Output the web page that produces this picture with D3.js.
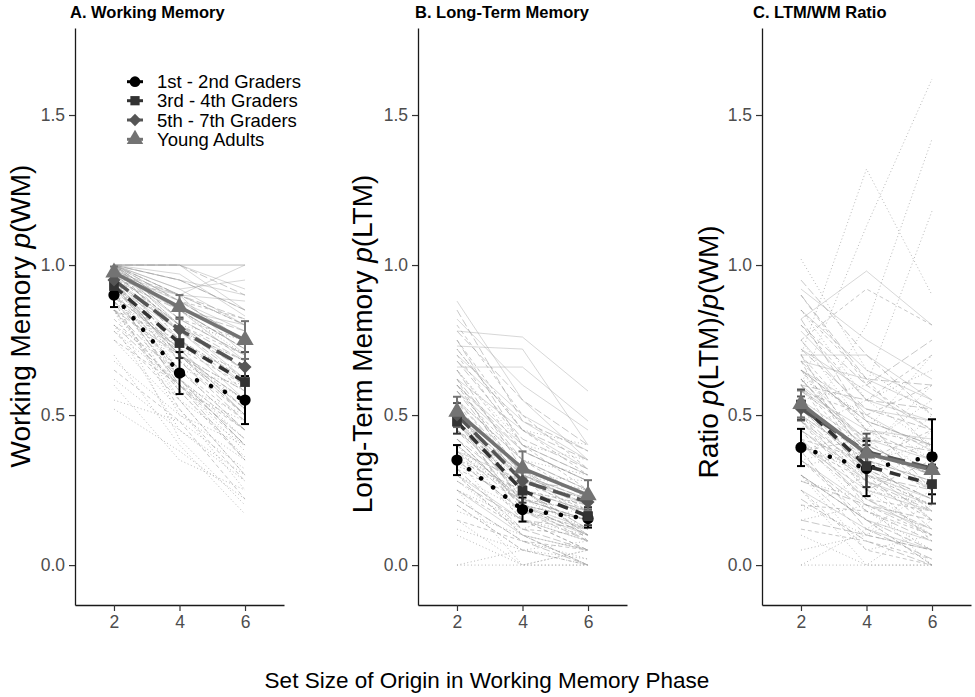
<!DOCTYPE html>
<html><head><meta charset="utf-8">
<script src="https://cdn.jsdelivr.net/npm/d3@7"></script>
<style>
body{margin:0;background:#fff}
svg{display:block}
text{font-family:"Liberation Sans",Arial,sans-serif}
</style>
</head><body>
<svg id="c" width="975" height="697"></svg>
<script>
// ---------- data ----------
const setSizes = [2, 4, 6];
const groups = ["1st - 2nd Graders", "3rd - 4th Graders", "5th - 7th Graders", "Young Adults"];
const xTicks = [2, 4, 6];
const yTicks = [0.0, 0.5, 1.0, 1.5];
const panelTitles = ["A. Working Memory", "B. Long-Term Memory", "C. LTM/WM Ratio"];
const xTitle = "Set Size of Origin in Working Memory Phase";

// group means (per set size 2,4,6) and half-width of error bars
const wmMeans = [[0.90,0.64,0.55],[0.93,0.74,0.61],[0.95,0.785,0.66],[0.975,0.86,0.75]];
const wmErr   = [[0.04,0.07,0.08],[0.03,0.05,0.05],[0.02,0.04,0.05],[0.02,0.04,0.063]];
const ltmMeans = [[0.35,0.185,0.155],[0.478,0.248,0.163],[0.50,0.28,0.21],[0.511,0.322,0.233]];
const ltmErr   = [[0.05,0.04,0.03],[0.04,0.04,0.03],[0.04,0.04,0.03],[0.05,0.057,0.05]];
const ratioMeans = [[0.392,0.322,0.361],[0.535,0.33,0.27],[0.522,0.378,0.323],[0.537,0.372,0.317]];
const ratioErr   = [[0.062,0.092,0.125],[0.05,0.07,0.065],[0.04,0.06,0.05],[0.045,0.05,0.05]];

// individual participants, WM
const wmG1 = [[1.0,0.75,0.62],[0.95,0.70,0.58],[0.92,0.62,0.45],[0.85,0.55,0.40],[1.0,0.85,0.70],[0.88,0.50,0.35],[0.80,0.45,0.30],[0.97,0.72,0.65],[0.75,0.52,0.25],[0.90,0.60,0.50],[1.0,0.80,0.75],[0.93,0.68,0.55],[0.62,0.45,0.28],[0.85,0.58,0.48],[0.98,0.78,0.68],[0.70,0.40,0.17],[0.95,0.65,0.60],[0.55,0.48,0.32],[0.88,0.70,0.52],[1.0,0.62,0.42],[0.52,0.38,0.22],[0.78,0.60,0.38],[0.85,0.42,0.20],[0.92,0.55,0.30],[0.68,0.50,0.40],[0.80,0.65,0.45],[0.95,0.58,0.36],[0.60,0.35,0.25]];
const wmG2 = [[1.0,0.85,0.72],[0.97,0.80,0.65],[0.93,0.70,0.55],[0.88,0.62,0.45],[1.0,0.90,0.80],[0.90,0.68,0.50],[0.85,0.58,0.35],[0.95,0.78,0.68],[0.78,0.55,0.30],[1.0,0.75,0.58],[0.98,0.88,0.82],[0.92,0.72,0.60],[0.82,0.60,0.40],[1.0,0.82,0.75],[0.95,0.70,0.52],[0.65,0.48,0.22],[0.97,0.80,0.70],[0.90,0.65,0.48],[0.88,0.52,0.28],[0.95,0.62,0.40],[0.75,0.60,0.45],[1.0,0.70,0.50],[0.85,0.75,0.62]];
const wmG3 = [[1.0,0.90,0.80],[0.98,0.85,0.72],[0.95,0.78,0.65],[0.92,0.70,0.55],[1.0,0.95,0.85],[0.93,0.75,0.60],[0.88,0.65,0.45],[1.0,0.82,0.70],[0.85,0.62,0.40],[1.0,0.88,0.75],[0.97,0.80,0.68],[0.90,0.72,0.52],[1.0,1.0,0.90],[0.95,0.85,0.78],[0.80,0.60,0.35],[0.98,0.90,0.82],[0.93,0.70,0.58],[0.90,0.60,0.42],[1.0,0.78,0.62],[0.85,0.70,0.50],[0.95,0.68,0.48]];
const wmG4 = [[1.0,1.0,1.0],[1.0,1.0,0.92],[1.0,0.95,0.85],[1.0,0.92,0.80],[0.97,0.88,0.78],[1.0,0.85,0.72],[0.95,0.80,0.65],[1.0,0.90,0.88],[1.0,0.97,0.83],[0.98,0.82,0.70],[0.93,0.78,0.60],[1.0,1.0,0.85],[1.0,0.88,0.75],[0.95,0.75,0.55],[1.0,0.92,0.95],[0.97,0.85,0.68],[1.0,0.95,0.90],[0.90,0.72,0.50],[1.0,1.0,1.0],[0.97,0.90,1.0],[1.0,0.85,0.80],[0.95,0.90,0.70],[1.0,0.80,0.62]];

// individual participants, LTM
const ltmG1 = [[0.50,0.25,0.20],[0.40,0.20,0.15],[0.30,0.10,0.05],[0.25,0.15,0.10],[0.60,0.30,0.25],[0.35,0.10,0.0],[0.20,0.05,0.08],[0.45,0.28,0.22],[0.15,0.0,0.05],[0.38,0.22,0.18],[0.55,0.35,0.30],[0.30,0.18,0.12],[0.10,0.0,0.0],[0.28,0.12,0.20],[0.48,0.30,0.28],[0.0,0.05,0.0],[0.42,0.20,0.15],[0.33,0.25,0.10],[0.65,0.40,0.35],[0.22,0.08,0.02],[0.0,0.0,0.0],[0.72,0.45,0.40],[0.18,0.10,0.0],[0.40,0.15,0.08],[0.52,0.22,0.12],[0.12,0.05,0.02],[0.35,0.28,0.18],[0.25,0.0,0.05]];
const ltmG2 = [[0.60,0.30,0.20],[0.55,0.28,0.18],[0.45,0.20,0.10],[0.40,0.22,0.15],[0.75,0.45,0.30],[0.50,0.15,0.05],[0.30,0.10,0.0],[0.65,0.38,0.28],[0.35,0.18,0.12],[0.48,0.25,0.20],[0.70,0.40,0.25],[0.42,0.20,0.08],[0.20,0.05,0.0],[0.58,0.35,0.22],[0.80,0.50,0.32],[0.25,0.12,0.10],[0.50,0.30,0.15],[0.38,0.15,0.05],[0.62,0.25,0.12],[0.32,0.22,0.18],[0.45,0.30,0.08],[0.15,0.08,0.05],[0.55,0.20,0.15]];
const ltmG3 = [[0.62,0.35,0.25],[0.58,0.30,0.22],[0.48,0.22,0.15],[0.42,0.25,0.18],[0.78,0.55,0.40],[0.52,0.20,0.10],[0.32,0.12,0.05],[0.68,0.42,0.32],[0.38,0.20,0.15],[0.50,0.28,0.25],[0.72,0.45,0.35],[0.45,0.25,0.12],[0.22,0.08,0.0],[0.60,0.38,0.28],[0.85,0.48,0.38],[0.28,0.15,0.12],[0.55,0.30,0.20],[0.65,0.32,0.18],[0.35,0.25,0.10],[0.48,0.18,0.08],[0.75,0.40,0.30]];
const ltmG4 = [[0.88,0.55,0.35],[0.78,0.76,0.58],[0.73,0.72,0.40],[0.66,0.66,0.48],[0.60,0.40,0.30],[0.55,0.35,0.25],[0.50,0.30,0.22],[0.45,0.25,0.18],[0.40,0.22,0.15],[0.35,0.18,0.10],[0.30,0.15,0.08],[0.62,0.45,0.32],[0.70,0.50,0.38],[0.25,0.10,0.05],[0.48,0.28,0.20],[0.82,0.60,0.45],[0.42,0.20,0.12],[0.58,0.38,0.28],[0.68,0.48,0.35],[0.38,0.28,0.22],[0.52,0.32,0.15]];

// individual participants, LTM/WM ratio
const ratioG1 = [[1.02,0.65,0.50],[0.70,1.32,0.90],[0.60,1.13,1.62],[0.45,0.80,1.42],[0.55,0.60,1.18],[0.50,0.35,0.40],[0.40,0.30,0.20],[0.30,0.15,0.00],[0.25,0.00,0.15],[0.35,0.40,0.55],[0.20,0.10,0.30],[0.48,0.25,0.10],[0.15,0.20,0.00],[0.38,0.45,0.70],[0.00,0.12,0.25],[0.62,0.50,0.35],[0.28,0.22,0.45],[0.42,0.18,0.05],[0.10,0.00,0.00],[0.33,0.38,0.60],[0.0,0.0,0.0],[0.75,0.45,0.30],[0.55,0.25,0.20],[0.18,0.30,0.50],[0.65,0.35,0.15],[0.45,0.55,0.40],[0.05,0.10,0.20],[0.30,0.05,0.10],[0.85,0.55,0.65]];
const ratioG2 = [[0.90,0.60,0.45],[0.75,0.92,0.80],[0.65,0.40,0.30],[0.60,0.35,0.25],[0.55,0.30,0.20],[0.50,0.25,0.35],[0.45,0.20,0.10],[0.40,0.28,0.15],[0.35,0.15,0.00],[0.70,0.45,0.40],[0.30,0.10,0.05],[0.58,0.50,0.60],[0.25,0.05,0.00],[0.62,0.38,0.30],[0.80,0.55,0.70],[0.48,0.22,0.18],[0.20,0.18,0.10],[0.52,0.32,0.22],[0.68,0.30,0.12],[0.42,0.35,0.45],[0.85,0.62,0.38],[0.12,0.08,0.02],[0.60,0.28,0.08],[0.38,0.42,0.25]];
const ratioG3 = [[0.95,0.70,0.50],[0.80,0.60,0.75],[0.68,0.45,0.35],[0.62,0.40,0.30],[0.55,0.35,0.28],[0.50,0.30,0.25],[0.45,0.28,0.18],[0.40,0.22,0.12],[0.35,0.18,0.08],[0.72,0.52,0.45],[0.30,0.15,0.05],[0.58,0.42,0.38],[0.22,0.08,0.00],[0.65,0.48,0.40],[0.48,0.32,0.22],[0.28,0.20,0.15],[0.52,0.38,0.30],[0.82,0.48,0.25],[0.60,0.55,0.52],[0.38,0.12,0.02],[0.70,0.35,0.18],[0.15,0.10,0.05],[0.90,0.62,0.60]];
const ratioG4 = [[0.82,0.98,0.80],[0.92,0.75,0.62],[0.78,0.55,0.48],[0.70,0.70,0.55],[0.65,0.48,0.40],[0.60,0.42,0.35],[0.55,0.40,0.30],[0.50,0.35,0.28],[0.45,0.30,0.22],[0.40,0.25,0.18],[0.35,0.20,0.12],[0.30,0.15,0.08],[0.68,0.62,0.52],[0.75,0.50,0.38],[0.25,0.12,0.05],[0.58,0.45,0.42],[0.48,0.28,0.20],[0.62,0.38,0.25],[0.72,0.58,0.45],[0.52,0.32,0.15],[0.85,0.65,0.55],[0.42,0.22,0.10],[0.65,0.52,0.48]];

// ---------- styles ----------
const groupColors = ["#000000", "#333333", "#555555", "#737373"];
const meanDash = ["0.1 15", "11 8", "18 7", null];
const indivDash = ["1 2.5", "4 3", "8 3", null];
const symbols = [d3.symbolCircle, d3.symbolSquare, d3.symbolSquare, d3.symbolTriangle];
const symbolSizes = [100, 95, 85, 130];
const symbolRot = [0, 0, 45, 0];

const panels = [
  {title: panelTitles[0], indiv: [wmG1, wmG2, wmG3, wmG4], means: wmMeans, err: wmErr,
   ylab: [["Working Memory ", false], ["p", true], ["(WM)", false]], ylabPos: [20, 316]},
  {title: panelTitles[1], indiv: [ltmG1, ltmG2, ltmG3, ltmG4], means: ltmMeans, err: ltmErr,
   ylab: [["Long-Term Memory ", false], ["p", true], ["(LTM)", false]], ylabPos: [362, 344]},
  {title: panelTitles[2], indiv: [ratioG1, ratioG2, ratioG3, ratioG4], means: ratioMeans, err: ratioErr,
   ylab: [["Ratio ", false], ["p", true], ["(LTM)/", false], ["p", true], ["(WM)", false]], ylabPos: [708, 352]}
];

// ---------- layout ----------
const svg = d3.select("#c");
const panelLefts = [75, 418, 762];
const titleX = [70, 415, 753];
const panelW = 209;
const y = d3.scaleLinear().domain([-0.133, 1.79]).range([605, 28]);
const line = d3.line();

panels.forEach((p, i) => {
  const L = panelLefts[i];
  const x = d3.scaleLinear().domain([0.81, 7.19]).range([L, L + panelW]);
  const g = svg.append("g");

  // individual lines
  p.indiv.forEach((arr, gi) => {
    g.append("g").selectAll("path").data(arr).join("path")
      .attr("d", d => line(d.map((v, k) => [x(setSizes[k]), y(v)])))
      .attr("fill", "none")
      .attr("stroke", "#9c9c9c")
      .attr("stroke-opacity", gi === 3 ? 0.5 : 0.7)
      .attr("stroke-width", gi === 0 ? 1 : 0.8)
      .attr("stroke-dasharray", indivDash[gi]);
  });

  // mean lines
  p.means.forEach((m, gi) => {
    g.append("path")
      .attr("d", line(m.map((v, k) => [x(setSizes[k]), y(v)])))
      .attr("fill", "none")
      .attr("stroke", groupColors[gi])
      .attr("stroke-width", gi === 0 ? 4.5 : 3.6)
      .attr("stroke-linecap", gi === 0 ? "round" : "butt")
      .attr("stroke-dasharray", meanDash[gi]);
  });

  // error bars
  p.means.forEach((m, gi) => {
    const eg = g.append("g").attr("stroke", groupColors[gi]).attr("stroke-width", 2);
    m.forEach((v, k) => {
      const cx = x(setSizes[k]);
      const lo = y(v - p.err[gi][k]), hi = y(v + p.err[gi][k]);
      eg.append("line").attr("x1", cx).attr("x2", cx).attr("y1", lo).attr("y2", hi);
      eg.append("line").attr("x1", cx - 4).attr("x2", cx + 4).attr("y1", lo).attr("y2", lo);
      eg.append("line").attr("x1", cx - 4).attr("x2", cx + 4).attr("y1", hi).attr("y2", hi);
    });
  });

  // points
  p.means.forEach((m, gi) => {
    g.append("g").selectAll("path").data(m).join("path")
      .attr("d", d3.symbol(symbols[gi], symbolSizes[gi]))
      .attr("transform", (v, k) => `translate(${x(setSizes[k])},${y(v)}) rotate(${symbolRot[gi]})`)
      .attr("fill", groupColors[gi]);
  });

  // axes
  const ya = g.append("g").attr("transform", `translate(${L},0)`)
    .call(d3.axisLeft(y).tickValues(yTicks).tickFormat(d3.format(".1f")).tickSize(6).tickSizeOuter(0).tickPadding(4));
  const xa = g.append("g").attr("transform", "translate(0,605)")
    .call(d3.axisBottom(x).tickValues(xTicks).tickFormat(d3.format("d")).tickSize(6).tickSizeOuter(0).tickPadding(5));
  [ya, xa].forEach(a => {
    a.select(".domain").attr("stroke", "#1a1a1a").attr("stroke-width", 1.3);
    a.selectAll(".tick line").attr("stroke", "#333").attr("stroke-width", 1.2);
    a.selectAll(".tick text").attr("fill", "#4d4d4d").style("font-size", "17.5px")
      .style("font-family", '"Liberation Sans",Arial,sans-serif');
  });

  // panel title
  svg.append("text").attr("x", titleX[i]).attr("y", 18)
    .style("font-weight", "bold").style("font-size", "16.5px").attr("fill", "#000").text(p.title);

  // y title
  const yt = svg.append("text")
    .attr("transform", `translate(${p.ylabPos[0]},${p.ylabPos[1]}) rotate(-90)`)
    .attr("text-anchor", "middle").attr("dy", "0.35em")
    .style("font-size", "28px").attr("fill", "#000");
  p.ylab.forEach(([t, it]) => {
    yt.append("tspan").text(t).style("font-style", it ? "italic" : "normal");
  });
});

// legend
const leg = svg.append("g");
const legRowY = [81.7, 100.7, 120, 139.3];
groups.forEach((name, gi) => {
  const ry = legRowY[gi];
  leg.append("line").attr("x1", 127).attr("x2", 143).attr("y1", ry).attr("y2", ry)
    .attr("stroke", groupColors[gi]).attr("stroke-width", 3);
  leg.append("path").attr("d", d3.symbol(symbols[gi], symbolSizes[gi] * 0.9))
    .attr("transform", `translate(135,${ry}) rotate(${symbolRot[gi]})`)
    .attr("fill", groupColors[gi]);
  leg.append("text").attr("x", 157).attr("y", ry + 6.5)
    .style("font-size", "18.5px").attr("fill", "#000").text(name);
});

// x title
svg.append("text").attr("x", 487).attr("y", 688).attr("text-anchor", "middle")
  .style("font-size", "22.5px").attr("fill", "#000").text(xTitle);
</script>
</body></html>
